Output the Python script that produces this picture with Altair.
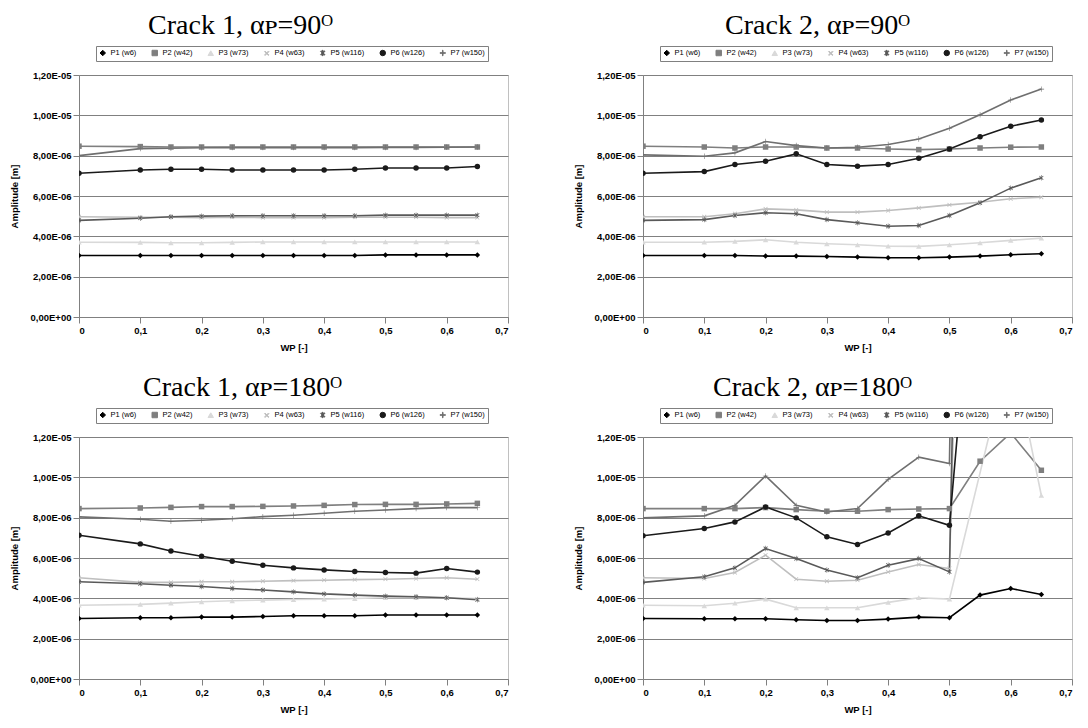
import altair as alt
import pandas as pd

WP = [0, 0.1, 0.15, 0.2, 0.25, 0.3, 0.35, 0.4, 0.45, 0.5, 0.55, 0.6, 0.65]
SERIES = ["P1 (w6)", "P2 (w42)", "P3 (w73)", "P4 (w63)", "P5 (w116)", "P6 (w126)", "P7 (w150)"]

# amplitudes in units of 1e-6 m
C1_90 = {
    "P1 (w6)":   [3.05, 3.05, 3.05, 3.05, 3.05, 3.05, 3.05, 3.05, 3.05, 3.08, 3.08, 3.08, 3.08],
    "P2 (w42)":  [8.47, 8.45, 8.43, 8.43, 8.43, 8.43, 8.43, 8.43, 8.43, 8.43, 8.43, 8.43, 8.43],
    "P3 (w73)":  [3.71, 3.70, 3.68, 3.68, 3.70, 3.72, 3.72, 3.72, 3.72, 3.72, 3.72, 3.72, 3.72],
    "P4 (w63)":  [4.97, 4.95, 4.95, 4.93, 4.95, 4.93, 4.93, 4.93, 4.95, 4.95, 4.95, 4.93, 4.93],
    "P5 (w116)": [4.79, 4.90, 4.97, 5.00, 5.02, 5.02, 5.02, 5.02, 5.02, 5.05, 5.05, 5.05, 5.05],
    "P6 (w126)": [7.13, 7.29, 7.33, 7.33, 7.29, 7.29, 7.29, 7.29, 7.33, 7.39, 7.39, 7.39, 7.46],
    "P7 (w150)": [8.00, 8.35, 8.37, 8.39, 8.40, 8.40, 8.40, 8.40, 8.40, 8.41, 8.41, 8.42, 8.43],
}
C2_90 = {
    "P1 (w6)":   [3.05, 3.05, 3.05, 3.02, 3.02, 3.00, 2.97, 2.94, 2.94, 2.97, 3.02, 3.09, 3.14],
    "P2 (w42)":  [8.47, 8.43, 8.38, 8.43, 8.43, 8.38, 8.38, 8.33, 8.30, 8.33, 8.38, 8.42, 8.43],
    "P3 (w73)":  [3.71, 3.71, 3.75, 3.83, 3.71, 3.63, 3.58, 3.51, 3.50, 3.58, 3.68, 3.80, 3.91],
    "P4 (w63)":  [4.97, 4.97, 5.12, 5.36, 5.31, 5.20, 5.20, 5.28, 5.41, 5.56, 5.69, 5.86, 5.94],
    "P5 (w116)": [4.79, 4.83, 5.03, 5.17, 5.12, 4.83, 4.67, 4.50, 4.54, 5.03, 5.66, 6.39, 6.90],
    "P6 (w126)": [7.13, 7.21, 7.56, 7.72, 8.09, 7.56, 7.48, 7.56, 7.87, 8.33, 8.94, 9.46, 9.77],
    "P7 (w150)": [8.04, 7.97, 8.14, 8.70, 8.50, 8.38, 8.42, 8.55, 8.83, 9.36, 10.03, 10.76, 11.30],
}
C1_180 = {
    "P1 (w6)":   [3.00, 3.04, 3.04, 3.07, 3.07, 3.10, 3.14, 3.14, 3.14, 3.17, 3.17, 3.17, 3.17],
    "P2 (w42)":  [8.45, 8.48, 8.51, 8.55, 8.55, 8.56, 8.58, 8.61, 8.65, 8.66, 8.66, 8.68, 8.71],
    "P3 (w73)":  [3.66, 3.70, 3.76, 3.83, 3.88, 3.91, 3.94, 3.96, 3.99, 4.03, 4.03, 4.03, 3.99],
    "P4 (w63)":  [5.02, 4.79, 4.79, 4.82, 4.82, 4.85, 4.88, 4.90, 4.93, 4.95, 4.98, 5.02, 4.95],
    "P5 (w116)": [4.82, 4.72, 4.65, 4.59, 4.49, 4.41, 4.32, 4.22, 4.16, 4.11, 4.08, 4.03, 3.93],
    "P6 (w126)": [7.13, 6.70, 6.35, 6.09, 5.84, 5.64, 5.51, 5.41, 5.33, 5.28, 5.25, 5.48, 5.30],
    "P7 (w150)": [8.04, 7.92, 7.82, 7.87, 7.95, 8.05, 8.12, 8.22, 8.32, 8.38, 8.45, 8.50, 8.50],
}
C2_180 = {
    "P1 (w6)":   [3.00, 2.99, 2.99, 2.99, 2.94, 2.90, 2.90, 2.97, 3.07, 3.04, 4.16, 4.49, 4.19],
    "P2 (w42)":  [8.45, 8.45, 8.45, 8.50, 8.40, 8.32, 8.32, 8.40, 8.43, 8.45, 10.80, 12.20, 10.35],
    "P3 (w73)":  [3.66, 3.63, 3.76, 3.96, 3.53, 3.53, 3.53, 3.80, 4.03, 3.96, None, 16.5, 9.10],
    "P4 (w63)":  [5.02, 4.98, 5.28, 6.14, 4.95, 4.85, 4.90, 5.31, 5.68, 5.48, 60.0, 70.0, 55.0],
    "P5 (w116)": [4.79, 5.07, 5.51, 6.47, 5.97, 5.40, 5.02, 5.64, 5.97, 5.31, 80.0, 90.0, 70.0],
    "P6 (w126)": [7.10, 7.46, 7.79, 8.53, 7.99, 7.05, 6.67, 7.24, 8.09, 7.62, 25.0, 28.0, 26.0],
    "P7 (w150)": [7.99, 8.09, 8.61, 10.07, 8.61, 8.28, 8.45, 9.90, 11.00, 10.68, 100.0, 110.0, 95.0],
}

TITLES = {
    "c1_90": "Crack 1, \u03b1\u1d18=90\u1d3c",
    "c2_90": "Crack 2, \u03b1\u1d18=90\u1d3c",
    "c1_180": "Crack 1, \u03b1\u1d18=180\u1d3c",
    "c2_180": "Crack 2, \u03b1\u1d18=180\u1d3c",
}
PANELS = {"c1_90": C1_90, "c2_90": C2_90, "c1_180": C1_180, "c2_180": C2_180}

rows = []
for key, d in PANELS.items():
    for s in SERIES:
        for x, v in zip(WP, d[s]):
            rows.append({"panel": key, "series": s, "wp": x,
                         "amp": None if v is None else v * 1e-6})
df = pd.DataFrame(rows)

COLORS = ["#000000", "#7f7f7f", "#d9d9d9", "#bfbfbf", "#595959", "#1a1a1a", "#6f6f6f"]
XSHAPE = "M-0.8,-0.6L-0.6,-0.8L0.8,0.6L0.6,0.8Z M0.6,-0.8L0.8,-0.6L-0.6,0.8L-0.8,0.6Z"
STAR = XSHAPE + " M-0.1,-1H0.1V1H-0.1Z"
PLUS = "M-1,-0.1H1V0.1H-1Z M-0.1,-1H0.1V1H-0.1Z"
SHAPES = ["diamond", "square", "triangle-up", XSHAPE, STAR, "circle", PLUS]
SIZES = [30, 30, 36, 40, 45, 42, 45]

TITLE_DX = {"c1_90": -53, "c2_90": -40, "c1_180": -51, "c2_180": -45}

xlab = "datum.value == 0 ? '0' : replace(format(datum.value, '.1f'), '.', ',')"
ylab = "replace(replace(replace(format(datum.value, '.2e'), '.', ','), 'e-', 'E-0'), 'e+', 'E+0')"


def legend():
    return alt.Legend(orient="none", legendX=17, legendY=-29, direction="horizontal",
                      columns=7, title=None, strokeColor="#808080", fillColor="white",
                      padding=3, labelFont="Liberation Sans", labelFontSize=7.5,
                      labelColor="#000", symbolSize=24, columnPadding=13,
                      labelOffset=4, symbolStrokeWidth=1)


def panel(key):
    base = alt.Chart(df).transform_filter(alt.datum.panel == key).transform_filter(
        "isValid(datum.amp)")
    xenc = alt.X("wp:Q", scale=alt.Scale(domain=[0, 0.7], nice=False),
                 axis=alt.Axis(values=[0, 0.1, 0.2, 0.3, 0.4, 0.5, 0.6, 0.7],
                               labelExpr=xlab, title="WP [-]", grid=False))
    yenc = alt.Y("amp:Q", scale=alt.Scale(domain=[0, 1.2e-5], nice=False),
                 axis=alt.Axis(values=[0, 2e-6, 4e-6, 6e-6, 8e-6, 1e-5, 1.2e-5],
                               labelExpr=ylab, title="Amplitude [m]", grid=True))
    cenc = alt.Color("series:N", scale=alt.Scale(domain=SERIES, range=COLORS), legend=legend())
    senc = alt.Shape("series:N", scale=alt.Scale(domain=SERIES, range=SHAPES), legend=legend())
    line = base.mark_line(strokeWidth=1.6, clip=True).encode(
        x=xenc, y=yenc, color=cenc, order="wp:Q")
    pts = base.mark_point(filled=True, opacity=1, clip=True).encode(
        x=xenc, y=yenc, color=cenc, shape=senc,
        size=alt.Size("series:N", scale=alt.Scale(domain=SERIES, range=SIZES), legend=None))
    return alt.layer(line, pts).properties(
        width=429, height=242,
        title=alt.TitleParams(TITLES[key], font="Liberation Serif", fontSize=28,
                              fontWeight="normal", anchor="middle", frame="group",
                              dx=TITLE_DX[key], offset=6, color="#000"))


RES = dict(color="independent", shape="independent", size="independent")
row1 = alt.hconcat(panel("c1_90"), panel("c2_90"), spacing=63).resolve_scale(**RES).resolve_legend(
    color="independent", shape="independent")
row2 = alt.hconcat(panel("c1_180"), panel("c2_180"), spacing=63).resolve_scale(**RES).resolve_legend(
    color="independent", shape="independent")

chart = alt.vconcat(row1, row2, spacing=20).resolve_scale(**RES).resolve_legend(
    color="independent", shape="independent").properties(
    padding={"left": 0, "top": 3, "right": 5, "bottom": 3}
).configure_view(stroke="#c0c0c0", strokeWidth=1).configure_axis(
    labelFont="Liberation Sans", labelFontWeight="bold", labelFontSize=9.5, labelColor="#000",
    titleFont="Liberation Sans", titleFontWeight="bold", titleFontSize=9.5, titleColor="#000",
    domainColor="#808080", tickColor="#808080", tickSize=6, labelPadding=2,
    gridColor="#808080", gridWidth=1
).configure_axisY(titlePadding=11).configure_axisX(titlePadding=8)

chart.save("out.html", embed_options={"renderer": "svg", "actions": False})
